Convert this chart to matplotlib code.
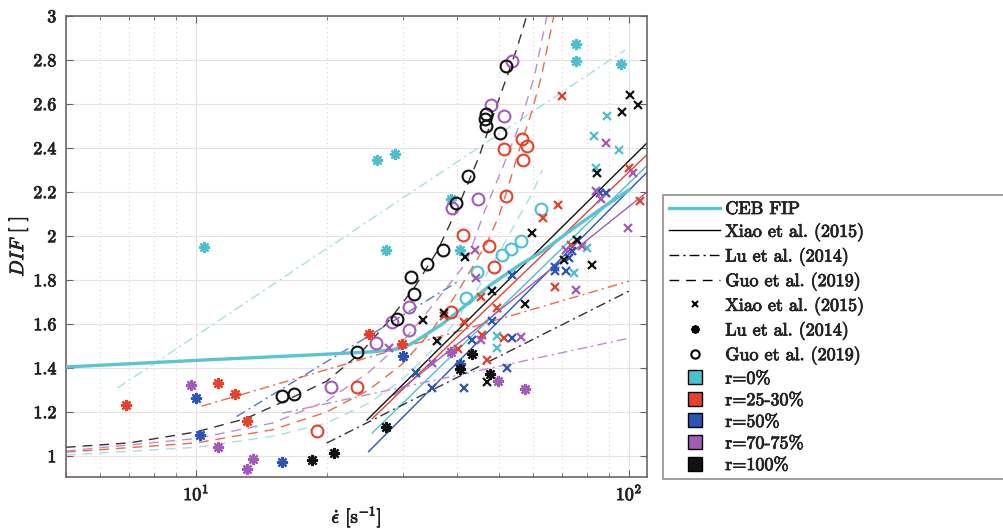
import matplotlib
matplotlib.use("Agg")
import matplotlib.pyplot as plt
import matplotlib.patheffects as pe
from matplotlib.lines import Line2D

plt.rcParams["font.family"] = "cmr10"
plt.rcParams["mathtext.fontset"] = "cm"
plt.rcParams["axes.formatter.use_mathtext"] = True

# ---------------------------------------------------------------- data
ratios = ["r=0%", "r=25-30%", "r=50%", "r=70-75%", "r=100%"]
ratio_colors = {"r=0%": "#4cc0cf", "r=25-30%": "#e5412b", "r=50%": "#2a55b5",
                "r=70-75%": "#a45ab8", "r=100%": "#111111"}

# Xiao et al. (2015) tests: strain rate [1/s] and DIF
xiao_rate = {
    "r=0%": [88.9, 83.0, 94.8, 83.9, 74.6, 80.0, 49.6, 49.6],
    "r=25-30%": [70.0, 68.5, 63.3, 106, 100, 73.5, 67.5, 45.5, 49.6, 41.6, 37.4, 45.8, 51.4, 40.3, 47.0],
    "r=50%": [85.7, 88.5, 73.8, 72.7, 67.5, 67.5, 71.5, 53.7, 48.3, 43.4, 53.7, 52.3, 41.6, 35.1, 32.2],
    "r=70-75%": [88.5, 102, 83.9, 86.2, 99.5, 77.9, 71.5, 75.4, 44.1, 44.3, 45.5, 56.3, 27.9, 35.1],
    "r=100%": [100.5, 104.9, 96.3, 84.4, 75.9, 70.8, 82.2, 59.7, 41.8, 48.3, 57.5, 33.4, 37.4, 36.0, 47.0],
}
xiao_dif = {
    "r=0%": [2.545, 2.455, 2.39, 2.31, 1.832, 1.945, 1.545, 1.491],
    "r=25-30%": [2.636, 2.141, 2.082, 2.159, 2.309, 1.959, 1.768, 1.723, 1.673, 1.609, 1.636, 1.55, 1.536, 1.486, 1.436],
    "r=50%": [2.195, 2.195, 1.932, 1.90, 1.859, 1.841, 1.841, 1.823, 1.614, 1.527, 1.536, 1.40, 1.309, 1.309, 1.377],
    "r=70-75%": [2.423, 2.286, 2.205, 2.168, 2.036, 1.955, 1.936, 1.755, 1.936, 1.809, 1.527, 1.541, 1.491, 1.423],
    "r=100%": [2.641, 2.595, 2.564, 2.286, 1.982, 1.891, 1.868, 2.014, 1.905, 1.75, 1.691, 1.618, 1.65, 1.523, 1.336],
}

# Lu et al. (2014) tests
lu_rate = {
    "r=0%": [10.4, 26.2, 28.8, 27.5, 38.8, 40.7, 75.4, 75.4, 95.8],
    "r=25-30%": [6.89, 11.2, 12.3, 13.1, 25.1, 29.9],
    "r=50%": [10.0, 10.2, 15.8, 30.1, 40.7],
    "r=70-75%": [9.74, 11.2, 13.1, 13.5, 38.8, 49.8, 57.5],
    "r=100%": [18.5, 20.8, 27.5, 40.7, 43.4, 47.8],
}
lu_dif = {
    "r=0%": [1.95, 2.345, 2.373, 1.936, 2.168, 1.936, 2.873, 2.795, 2.782],
    "r=25-30%": [1.232, 1.332, 1.282, 1.159, 1.555, 1.509],
    "r=50%": [1.264, 1.095, 0.973, 1.455, 1.418],
    "r=70-75%": [1.323, 1.041, 0.941, 0.986, 1.473, 1.341, 1.305],
    "r=100%": [0.982, 1.014, 1.132, 1.395, 1.464, 1.373],
}

# Guo et al. (2019) tests
guo_rate = {
    "r=0%": [62.6, 56.3, 53.4, 50.9, 44.6, 42.0],
    "r=25-30%": [56.6, 58.1, 51.4, 56.9, 52.0, 41.4, 47.5, 48.8, 38.8, 23.5, 19.0],
    "r=50%": [],
    "r=70-75%": [53.7, 48.0, 51.4, 44.8, 39.0, 31.0, 28.4, 31.0, 26.0, 20.5],
    "r=100%": [15.8, 16.8, 23.5, 29.1, 31.9, 31.4, 34.2, 37.2, 39.9, 42.5, 46.5, 46.8, 46.8, 50.4, 52.0],
}
guo_dif = {
    "r=0%": [2.123, 1.977, 1.941, 1.914, 1.836, 1.718],
    "r=25-30%": [2.441, 2.409, 2.395, 2.345, 2.182, 2.005, 1.955, 1.859, 1.655, 1.314, 1.114],
    "r=50%": [],
    "r=70-75%": [2.795, 2.595, 2.545, 2.168, 2.127, 1.677, 1.609, 1.573, 1.514, 1.314],
    "r=100%": [1.273, 1.282, 1.473, 1.623, 1.736, 1.814, 1.873, 1.936, 2.15, 2.273, 2.532, 2.555, 2.50, 2.468, 2.773],
}

# CEB-FIP model curve
ceb_rate = [5, 10, 20, 26, 30, 32, 37, 41, 48, 56, 63, 75, 87, 100]
ceb_dif = [1.405, 1.435, 1.463, 1.475, 1.49, 1.52, 1.60, 1.67, 1.78, 1.87, 1.93, 2.04, 2.13, 2.21]

# Xiao et al. (2015) fitted lines (end points)
xiao_fit_rate = {"r=0%": [25.5, 110], "r=25-30%": [25.5, 110], "r=50%": [25.0, 110],
                 "r=70-75%": [28.6, 110], "r=100%": [24.8, 110]}
xiao_fit_dif = {"r=0%": [1.105, 2.32], "r=25-30%": [1.17, 2.37], "r=50%": [1.02, 2.29],
                "r=70-75%": [1.277, 2.20], "r=100%": [1.164, 2.423]}

# Lu et al. (2014) fitted lines (end points)
lu_fit_rate = {"r=0%": [6.57, 97.9], "r=25-30%": [10.3, 100], "r=50%": [12.4, 40.0],
               "r=70-75%": [15.8, 100], "r=100%": [20.0, 100]}
lu_fit_dif = {"r=0%": [1.309, 2.845], "r=25-30%": [1.227, 1.795], "r=50%": [1.18, 1.79],
              "r=70-75%": [1.195, 1.536], "r=100%": [1.059, 1.75]}

# Guo et al. (2019) fitted curves
guo_fit_rate = {
    "r=0%": [5, 10, 15, 20, 25, 30, 35, 40, 45, 50, 55, 60, 63],
    "r=25-30%": [5, 10, 15, 20, 25, 30, 35, 40, 43.5, 47, 50, 52.5, 55.5, 59.7, 62.8, 67],
    "r=70-75%": [5, 10, 15, 20, 25, 30, 35, 42, 46.2, 51.4, 55.7, 60.3, 64.6],
    "r=100%": [5, 7, 10, 13, 16, 20, 24, 28, 32, 36, 40, 45, 50, 55, 58],
}
guo_fit_dif = {
    "r=0%": [1.005, 1.04, 1.09, 1.15, 1.24, 1.35, 1.48, 1.62, 1.77, 1.92, 2.07, 2.2, 2.3],
    "r=25-30%": [1.018, 1.06, 1.12, 1.20, 1.30, 1.42, 1.57, 1.74, 1.86, 1.97, 2.09, 2.22, 2.38, 2.57, 2.73, 3.0],
    "r=70-75%": [1.023, 1.08, 1.15, 1.25, 1.38, 1.52, 1.68, 1.877, 2.105, 2.327, 2.5, 2.718, 3.0],
    "r=100%": [1.04, 1.06, 1.11, 1.17, 1.25, 1.34, 1.47, 1.62, 1.77, 1.93, 2.12, 2.36, 2.62, 2.85, 3.0],
}

# ---------------------------------------------------------------- figure
fig = plt.figure(figsize=(10.04, 5.32), dpi=100)
ax = fig.add_axes([66 / 1004, 1 - 477 / 532, (647 - 66) / 1004, (477 - 16) / 532])
ax.set_xscale("log")
ax.set_xlim(5, 110)
ax.set_ylim(0.905, 3.0)

light = {"r=0%": "#a9dde6", "r=25-30%": "#ec6a45", "r=50%": "#5a78c5",
         "r=70-75%": "#c08ccd", "r=100%": "#333333"}

# fitted curves
for r in ratios:
    if r in guo_fit_rate:
        ax.plot(guo_fit_rate[r], guo_fit_dif[r], ls=(0, (7, 5)), lw=1.0, color=light[r], zorder=2)
    ax.plot(lu_fit_rate[r], lu_fit_dif[r], ls=(0, (7, 3, 1.5, 3)), lw=1.0, color=light[r], zorder=2)
    ax.plot(xiao_fit_rate[r], xiao_fit_dif[r], ls="-", lw=1.0, color=ratio_colors[r], zorder=2)

ax.plot(ceb_rate, ceb_dif, color="#5cc3d3", lw=2.4, zorder=3, solid_capstyle="round")

# test data
for r in ratios:
    c = ratio_colors[r]
    ax.plot(xiao_rate[r], xiao_dif[r], ls="none", marker="x", ms=6, mew=1.6, color=c, zorder=4)
    ax.plot(lu_rate[r], lu_dif[r], ls="none", marker=(8, 2, 0), ms=8, mew=1.6, color=c, zorder=4)
    ax.plot(guo_rate[r], guo_dif[r], ls="none", marker="o", ms=8.5, mew=1.5, mfc="none", mec=c, zorder=4)

# axes styling
yt = [1.0, 1.2, 1.4, 1.6, 1.8, 2.0, 2.2, 2.4, 2.6, 2.8, 3.0]
ax.set_yticks(yt)
ax.set_yticklabels(["1", "1.2", "1.4", "1.6", "1.8", "2", "2.2", "2.4", "2.6", "2.8", "3"])
ax.set_xticks([10, 100])
ax.set_xticklabels([r"$10^1$", r"$10^2$"])
ax.tick_params(which="both", direction="in", top=True, right=True, labelsize=13,
               color="#6a6060")
ax.tick_params(axis="y", pad=7)
ax.tick_params(axis="x", pad=4)
ax.tick_params(which="major", length=5)
ax.tick_params(which="minor", length=3)
for s in ax.spines.values():
    s.set_color("#6e6464")
    s.set_linewidth(1.2)
ax.grid(True, which="major", color="#e4e4e4", lw=0.8, zorder=0)
ax.grid(True, which="minor", axis="x", color="#d4d4d4", lw=0.8, ls=(0, (1, 3)), zorder=0)
ax.set_axisbelow(True)

ax.set_ylabel(r"$DIF$ [ ]", fontsize=14)
ax.yaxis.set_label_coords(-0.062, 0.5)
ax.set_xlabel(r"$\dot{\epsilon}$ [s$^{-1}$]", fontsize=13.5)
ax.xaxis.set_label_coords(0.5, -0.058)

# legend
handles = [
    Line2D([], [], color="#5cc3d3", lw=2.4),
    Line2D([], [], color="k", lw=1.0),
    Line2D([], [], color="k", lw=1.0, ls=(0, (7, 3, 1.5, 3))),
    Line2D([], [], color="k", lw=1.0, ls=(0, (7, 5))),
    Line2D([], [], color="k", ls="none", marker="x", ms=5, mew=1.5),
    Line2D([], [], color="k", ls="none", marker=(8, 2, 0), ms=6, mew=1.5),
    Line2D([], [], color="k", ls="none", marker="o", ms=6, mew=1.5, mfc="none"),
]
labels = ["CEB FIP", "Xiao et al. (2015)", "Lu et al. (2014)", "Guo et al. (2019)",
          "Xiao et al. (2015)", "Lu et al. (2014)", "Guo et al. (2019)"]
for r in ratios:
    handles.append(Line2D([], [], ls="none", marker="s", ms=10, mfc=ratio_colors[r], mec="k", mew=1.0))
    labels.append(r)

leg = fig.legend(handles, labels, loc="upper left", bbox_to_anchor=(663 / 1004, 0.0, 0.40, 1 - 195 / 532),
                 mode="expand", borderaxespad=0, fontsize=13, frameon=True, fancybox=False,
                 handlelength=2.8, handletextpad=0.3, labelspacing=0.33, borderpad=0.35)
leg.get_frame().set_edgecolor("#857b7b")
leg.get_frame().set_linewidth(1.3)

# slightly heavier strokes on all text
thick = [pe.withStroke(linewidth=0.6, foreground="#222222")]
for t in (ax.get_xticklabels() + ax.get_yticklabels() + leg.get_texts()
          + [ax.xaxis.label, ax.yaxis.label]):
    t.set_color("#222222")
    t.set_path_effects(thick)

fig.savefig("out.png", dpi=100, facecolor="white")
